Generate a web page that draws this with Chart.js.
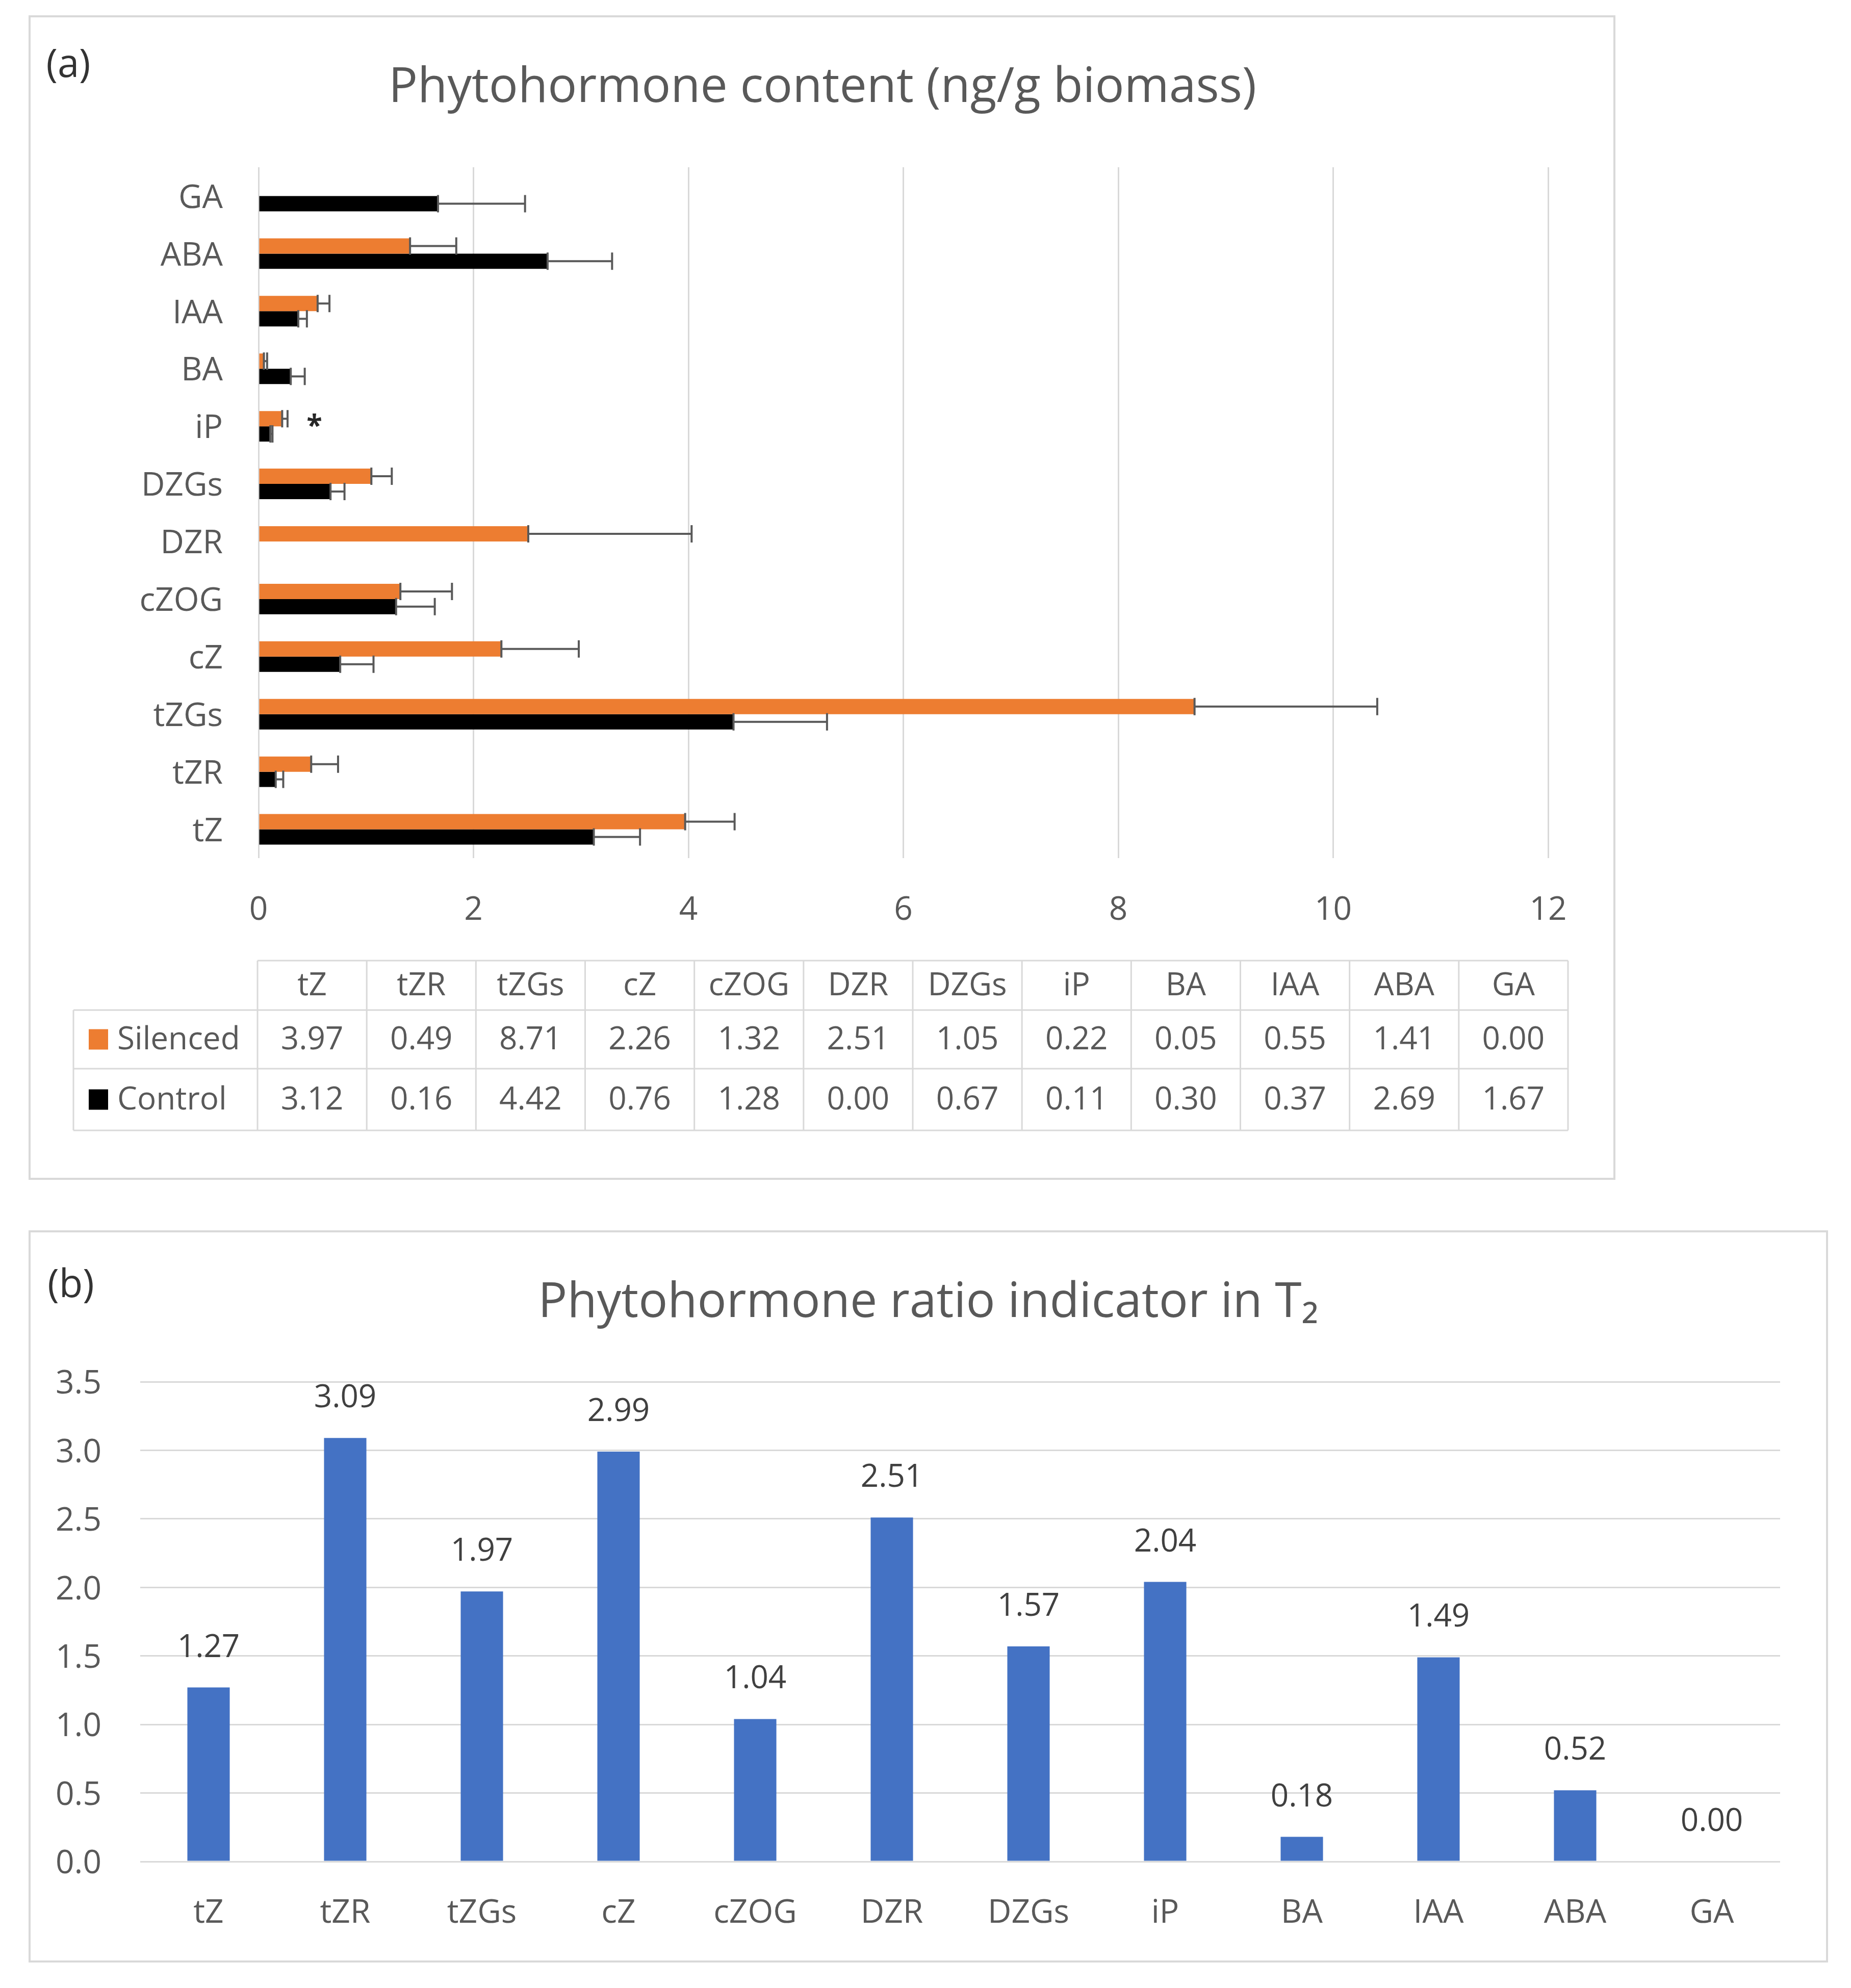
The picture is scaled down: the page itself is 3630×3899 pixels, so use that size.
<!DOCTYPE html>
<html><head><meta charset="utf-8">
<script src="https://cdn.jsdelivr.net/npm/chart.js@4.4.1/dist/chart.umd.min.js"></script>
<style>
html,body{margin:0;padding:0;background:#fff;}
body{width:3630px;height:3899px;position:relative;overflow:hidden;}
.panel{position:absolute;box-sizing:border-box;border:4px solid #d9d9d9;}
canvas{position:absolute;}
</style></head><body>
<div class="panel" style="left:56px;top:30px;width:3112px;height:2284px"></div>
<div class="panel" style="left:56px;top:2413px;width:3529px;height:1436px"></div>
<canvas id="cA" width="3110" height="2280" style="left:58px;top:32px"></canvas>
<canvas id="cB" width="3525" height="1432" style="left:58px;top:2415px"></canvas>
<script>
// ---------- data ----------
const categories = ['tZ','tZR','tZGs','cZ','cZOG','DZR','DZGs','iP','BA','IAA','ABA','GA'];
const seriesNames = ['Silenced','Control'];
const silenced = [3.97,0.49,8.71,2.26,1.32,2.51,1.05,0.22,0.05,0.55,1.41,0.00];
const control  = [3.12,0.16,4.42,0.76,1.28,0.00,0.67,0.11,0.30,0.37,2.69,1.67];
const silencedErr = [0.46,0.25,1.70,0.72,0.48,1.52,0.19,0.05,0.03,0.11,0.43,0];
const controlErr  = [0.43,0.07,0.87,0.31,0.36,0,0.13,0.02,0.13,0.08,0.60,0.81];
const xTicksA = [0,2,4,6,8,10,12];
const ratio = [1.27,3.09,1.97,2.99,1.04,2.51,1.57,2.04,0.18,1.49,0.52,0.00];
const yTicksB = [0,0.5,1.0,1.5,2.0,2.5,3.0,3.5];
const titleA = 'Phytohormone content (ng/g biomass)';
const titleB = 'Phytohormone ratio indicator in T\u2082';
const markers = [{category:'iP', value:0.52, text:'*'}];

// ---------- style ----------
const FONT = "'Open Sans', 'DejaVu Sans', sans-serif";
const TXT = '#595959';
const GRID = '#d9d9d9';
const COLORS = ['#ED7D31','#000000'];
Chart.defaults.font.family = FONT;
Chart.defaults.color = TXT;

const titlePlugin = {
  id:'panelTitle',
  afterDraw(chart, args, opts){
    const ctx = chart.ctx;
    ctx.save();
    ctx.fillStyle = TXT;
    ctx.font = '95px ' + FONT;
    ctx.textAlign = 'center';
    ctx.textBaseline = 'alphabetic';
    ctx.fillText(opts.text, chart.width/2, 168);
    ctx.fillStyle = '#333333';
    ctx.font = '76px ' + FONT;
    ctx.textBaseline = 'middle';
    ctx.fillText(opts.tag, opts.tagX, opts.tagY);
    ctx.restore();
  }
};

const errorBars = {
  id:'errorBars',
  afterDatasetsDraw(chart){
    const ctx = chart.ctx, xs = chart.scales.x;
    chart.data.datasets.forEach((ds,i)=>{
      const meta = chart.getDatasetMeta(i);
      meta.data.forEach((el,j)=>{
        const e = ds.errors[j]; if(!e) return;
        const x0 = el.x, x1 = xs.getPixelForValue(ds.data[j]+e), y = el.y, h = 17;
        ctx.save(); ctx.strokeStyle = '#595959'; ctx.lineWidth = 4;
        ctx.beginPath();
        ctx.moveTo(x0,y); ctx.lineTo(x1,y);
        ctx.moveTo(x0,y-h); ctx.lineTo(x0,y+h);
        ctx.moveTo(x1,y-h); ctx.lineTo(x1,y+h);
        ctx.stroke(); ctx.restore();
      });
    });
    // significance markers
    markers.forEach(m=>{
      const idx = categories.indexOf(m.category);
      const el = chart.getDatasetMeta(0).data[idx];
      const fs = 56;
      ctx.save(); ctx.fillStyle = '#262626'; ctx.font = 'bold '+fs+'px '+FONT;
      ctx.textAlign = 'center'; ctx.textBaseline = 'alphabetic';
      ctx.fillText(m.text, xs.getPixelForValue(m.value), el.y + 0.56*fs);
      ctx.restore();
    });
  }
};

const dataTable = {
  id:'dataTable',
  afterDraw(chart){
    const ctx = chart.ctx;
    const left = 86, colStart = 447, right = 3017;
    const rows = [1852,1949,2064,2185];
    const cw = (right-colStart)/categories.length;
    ctx.save();
    ctx.strokeStyle = GRID; ctx.lineWidth = 3;
    ctx.beginPath();
    ctx.moveTo(colStart,rows[0]); ctx.lineTo(right,rows[0]);
    for(let r=1;r<rows.length;r++){ ctx.moveTo(left,rows[r]); ctx.lineTo(right,rows[r]); }
    ctx.moveTo(left,rows[1]); ctx.lineTo(left,rows[3]);
    for(let c=0;c<=categories.length;c++){ const x = colStart+c*cw; ctx.moveTo(x,rows[0]); ctx.lineTo(x,rows[3]); }
    ctx.stroke();
    ctx.fillStyle = TXT; ctx.font = '62px ' + FONT;
    ctx.textAlign = 'center'; ctx.textBaseline = 'middle';
    categories.forEach((c,i)=> ctx.fillText(c, colStart+(i+0.5)*cw, (rows[0]+rows[1])/2 + 2));
    const vals = [silenced, control];
    vals.forEach((arr,r)=>{
      const yc = (rows[r+1]+rows[r+2])/2 + 2;
      arr.forEach((v,i)=> ctx.fillText(v.toFixed(2), colStart+(i+0.5)*cw, yc));
    });
    ctx.textAlign = 'left';
    seriesNames.forEach((n,r)=>{
      const yc = (rows[r+1]+rows[r+2])/2;
      ctx.fillStyle = COLORS[r];
      ctx.fillRect(116, yc-20, 38, 40);
      ctx.fillStyle = TXT;
      ctx.fillText(n, 172, yc+2);
    });
    ctx.restore();
  }
};

const barLabels = {
  id:'barLabels',
  afterDatasetsDraw(chart){
    const ctx = chart.ctx;
    const meta = chart.getDatasetMeta(0);
    ctx.save(); ctx.fillStyle = '#404040'; ctx.font = '62px ' + FONT;
    ctx.textAlign = 'center'; ctx.textBaseline = 'alphabetic';
    meta.data.forEach((el,j)=> ctx.fillText(chart.data.datasets[0].data[j].toFixed(2), el.x, el.y - 60));
    ctx.restore();
  }
};

function build(){
  new Chart(document.getElementById('cA'), {
    type:'bar',
    data:{ labels:categories, datasets:[
      {label:seriesNames[0], data:silenced, errors:silencedErr, backgroundColor:COLORS[0], categoryPercentage:0.53, barPercentage:1},
      {label:seriesNames[1], data:control, errors:controlErr, backgroundColor:COLORS[1], categoryPercentage:0.53, barPercentage:1}
    ]},
    options:{
      indexAxis:'y', responsive:false, animation:false, devicePixelRatio:1,
      layout:{padding:{left:0,right:132,top:296,bottom:489}},
      plugins:{legend:{display:false}, tooltip:{enabled:false},
        panelTitle:{text:titleA, tag:'(a)', tagX:76, tagY:97}},
      scales:{
        x:{type:'linear', min:xTicksA[0], max:xTicksA[xTicksA.length-1],
          afterBuildTicks(s){ s.ticks = xTicksA.map(v=>({value:v})); },
          ticks:{color:TXT, font:{size:64}, padding:64},
          grid:{color:GRID, lineWidth:3, drawTicks:false}, border:{display:false},
          afterFit(s){ s.height = 140; }},
        y:{type:'category', reverse:true,
          ticks:{color:TXT, font:{size:64}, padding:70, autoSkip:false, labelOffset:5},
          grid:{display:false, drawTicks:false}, border:{display:false},
          afterFit(s){ s.width = 449; }}
      }
    },
    plugins:[titlePlugin, errorBars, dataTable]
  });

  new Chart(document.getElementById('cB'), {
    type:'bar',
    data:{ labels:categories, datasets:[
      {label:'Ratio', data:ratio, backgroundColor:'#4472C4', categoryPercentage:0.31, barPercentage:1}
    ]},
    options:{
      responsive:false, animation:false, devicePixelRatio:1,
      layout:{padding:{left:0,right:92,top:295,bottom:56}},
      plugins:{legend:{display:false}, tooltip:{enabled:false},
        panelTitle:{text:titleB, tag:'(b)', tagX:81, tagY:107}},
      scales:{
        x:{type:'category',
          ticks:{color:TXT, font:{size:64}, padding:63, autoSkip:false},
          grid:{display:false, drawTicks:false}, border:{display:false},
          afterFit(s){ s.height = 140; }},
        y:{type:'linear', min:yTicksB[0], max:yTicksB[yTicksB.length-1],
          afterBuildTicks(s){ s.ticks = yTicksB.map(v=>({value:v})); },
          ticks:{color:TXT, font:{size:64}, padding:76, labelOffset:5, callback:v=>Number(v).toFixed(1)},
          grid:{color:GRID, lineWidth:3, drawTicks:false}, border:{display:false},
          afterFit(s){ s.width = 217; }}
      }
    },
    plugins:[titlePlugin, barLabels]
  });
}
if (document.fonts && document.fonts.load) {
  Promise.all([document.fonts.load("64px 'Open Sans'"), document.fonts.load("bold 64px 'Open Sans'")]).then(build, build);
} else build();
</script>
</body></html>
